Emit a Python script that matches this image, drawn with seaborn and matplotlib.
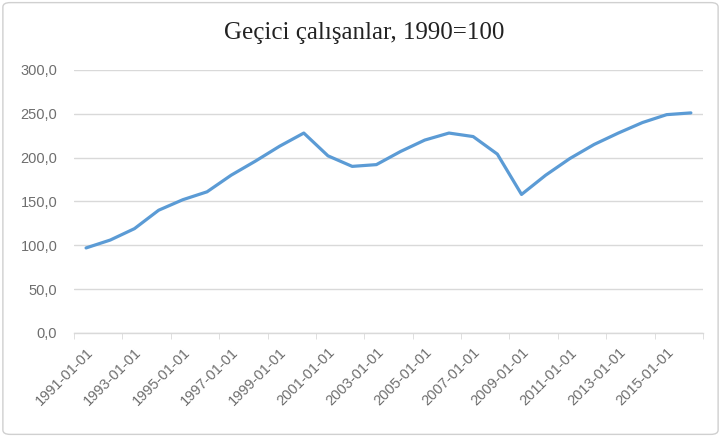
import numpy as np
import pandas as pd
import matplotlib
matplotlib.use("Agg")
import matplotlib.pyplot as plt
import matplotlib.ticker as mticker
from matplotlib.patches import FancyBboxPatch
import seaborn as sns

TITLE = "Geçici çalışanlar, 1990=100"
YEARS = list(range(1991, 2017))
VALUES = [97, 106, 119, 140, 152, 161, 180, 196, 213, 228,
          202, 190, 192, 207, 220, 228, 224, 204, 158, 180,
          199, 215, 228, 240, 249, 251]
Y_TICKS = [0, 50, 100, 150, 200, 250, 300]

LINE_COLOR = "#5B9BD5"
GRID_COLOR = "#D9D9D9"
TEXT_GRAY = "#6E6E6E"

df = pd.DataFrame({"pos": np.arange(len(YEARS)), "value": VALUES})
labels = [f"{y}-01-01" for y in YEARS]

sns.set_style("white")
plt.rcParams["font.family"] = ["Liberation Sans", "DejaVu Sans"]

fig = plt.figure(figsize=(7.21, 4.37), dpi=100)
ax = fig.add_axes([0.1026, 0.238, 0.8724, 0.602])

sns.lineplot(data=df, x="pos", y="value", color=LINE_COLOR, linewidth=2.3,
             sort=False, ax=ax)

ax.set_xlim(-0.5, len(YEARS) - 0.5)
ax.set_ylim(0, 300)
ax.set_yticks(Y_TICKS)
ax.yaxis.set_major_formatter(mticker.FuncFormatter(lambda v, p: f"{v:.1f}".replace(".", ",")))
ax.grid(axis="y", color=GRID_COLOR, linewidth=1)
ax.set_axisbelow(True)
for side in ["top", "right", "left"]:
    ax.spines[side].set_visible(False)
ax.spines["bottom"].set_color(GRID_COLOR)
ax.spines["bottom"].set_linewidth(1)

# labels every second category, tick marks on category boundaries
ax.set_xticks(np.arange(0, len(YEARS), 2))
ax.set_xticklabels(labels[::2], rotation=45, ha="right", rotation_mode="anchor")
ax.set_xticks(np.arange(-0.5, len(YEARS), 2), minor=True)
ax.tick_params(axis="x", which="major", length=0, pad=9, labelsize=10.5, labelcolor=TEXT_GRAY)
ax.tick_params(axis="x", which="minor", length=4, color=GRID_COLOR, bottom=True)
ax.tick_params(axis="y", length=0, pad=12, labelsize=10.5, labelcolor=TEXT_GRAY)
ax.set_xlabel("")
ax.set_ylabel("")

fig.text(0.505, 0.925, TITLE, ha="center", va="center", fontsize=18,
         family=["Liberation Serif", "DejaVu Serif"], color="#222222")

border = FancyBboxPatch((0.004, 0.006), 0.992, 0.988, boxstyle="round,pad=0,rounding_size=0.01",
                        transform=fig.transFigure, fill=False, edgecolor="#D0D0D0", linewidth=1)
fig.patches.append(border)

fig.savefig("out.png", dpi=100)
